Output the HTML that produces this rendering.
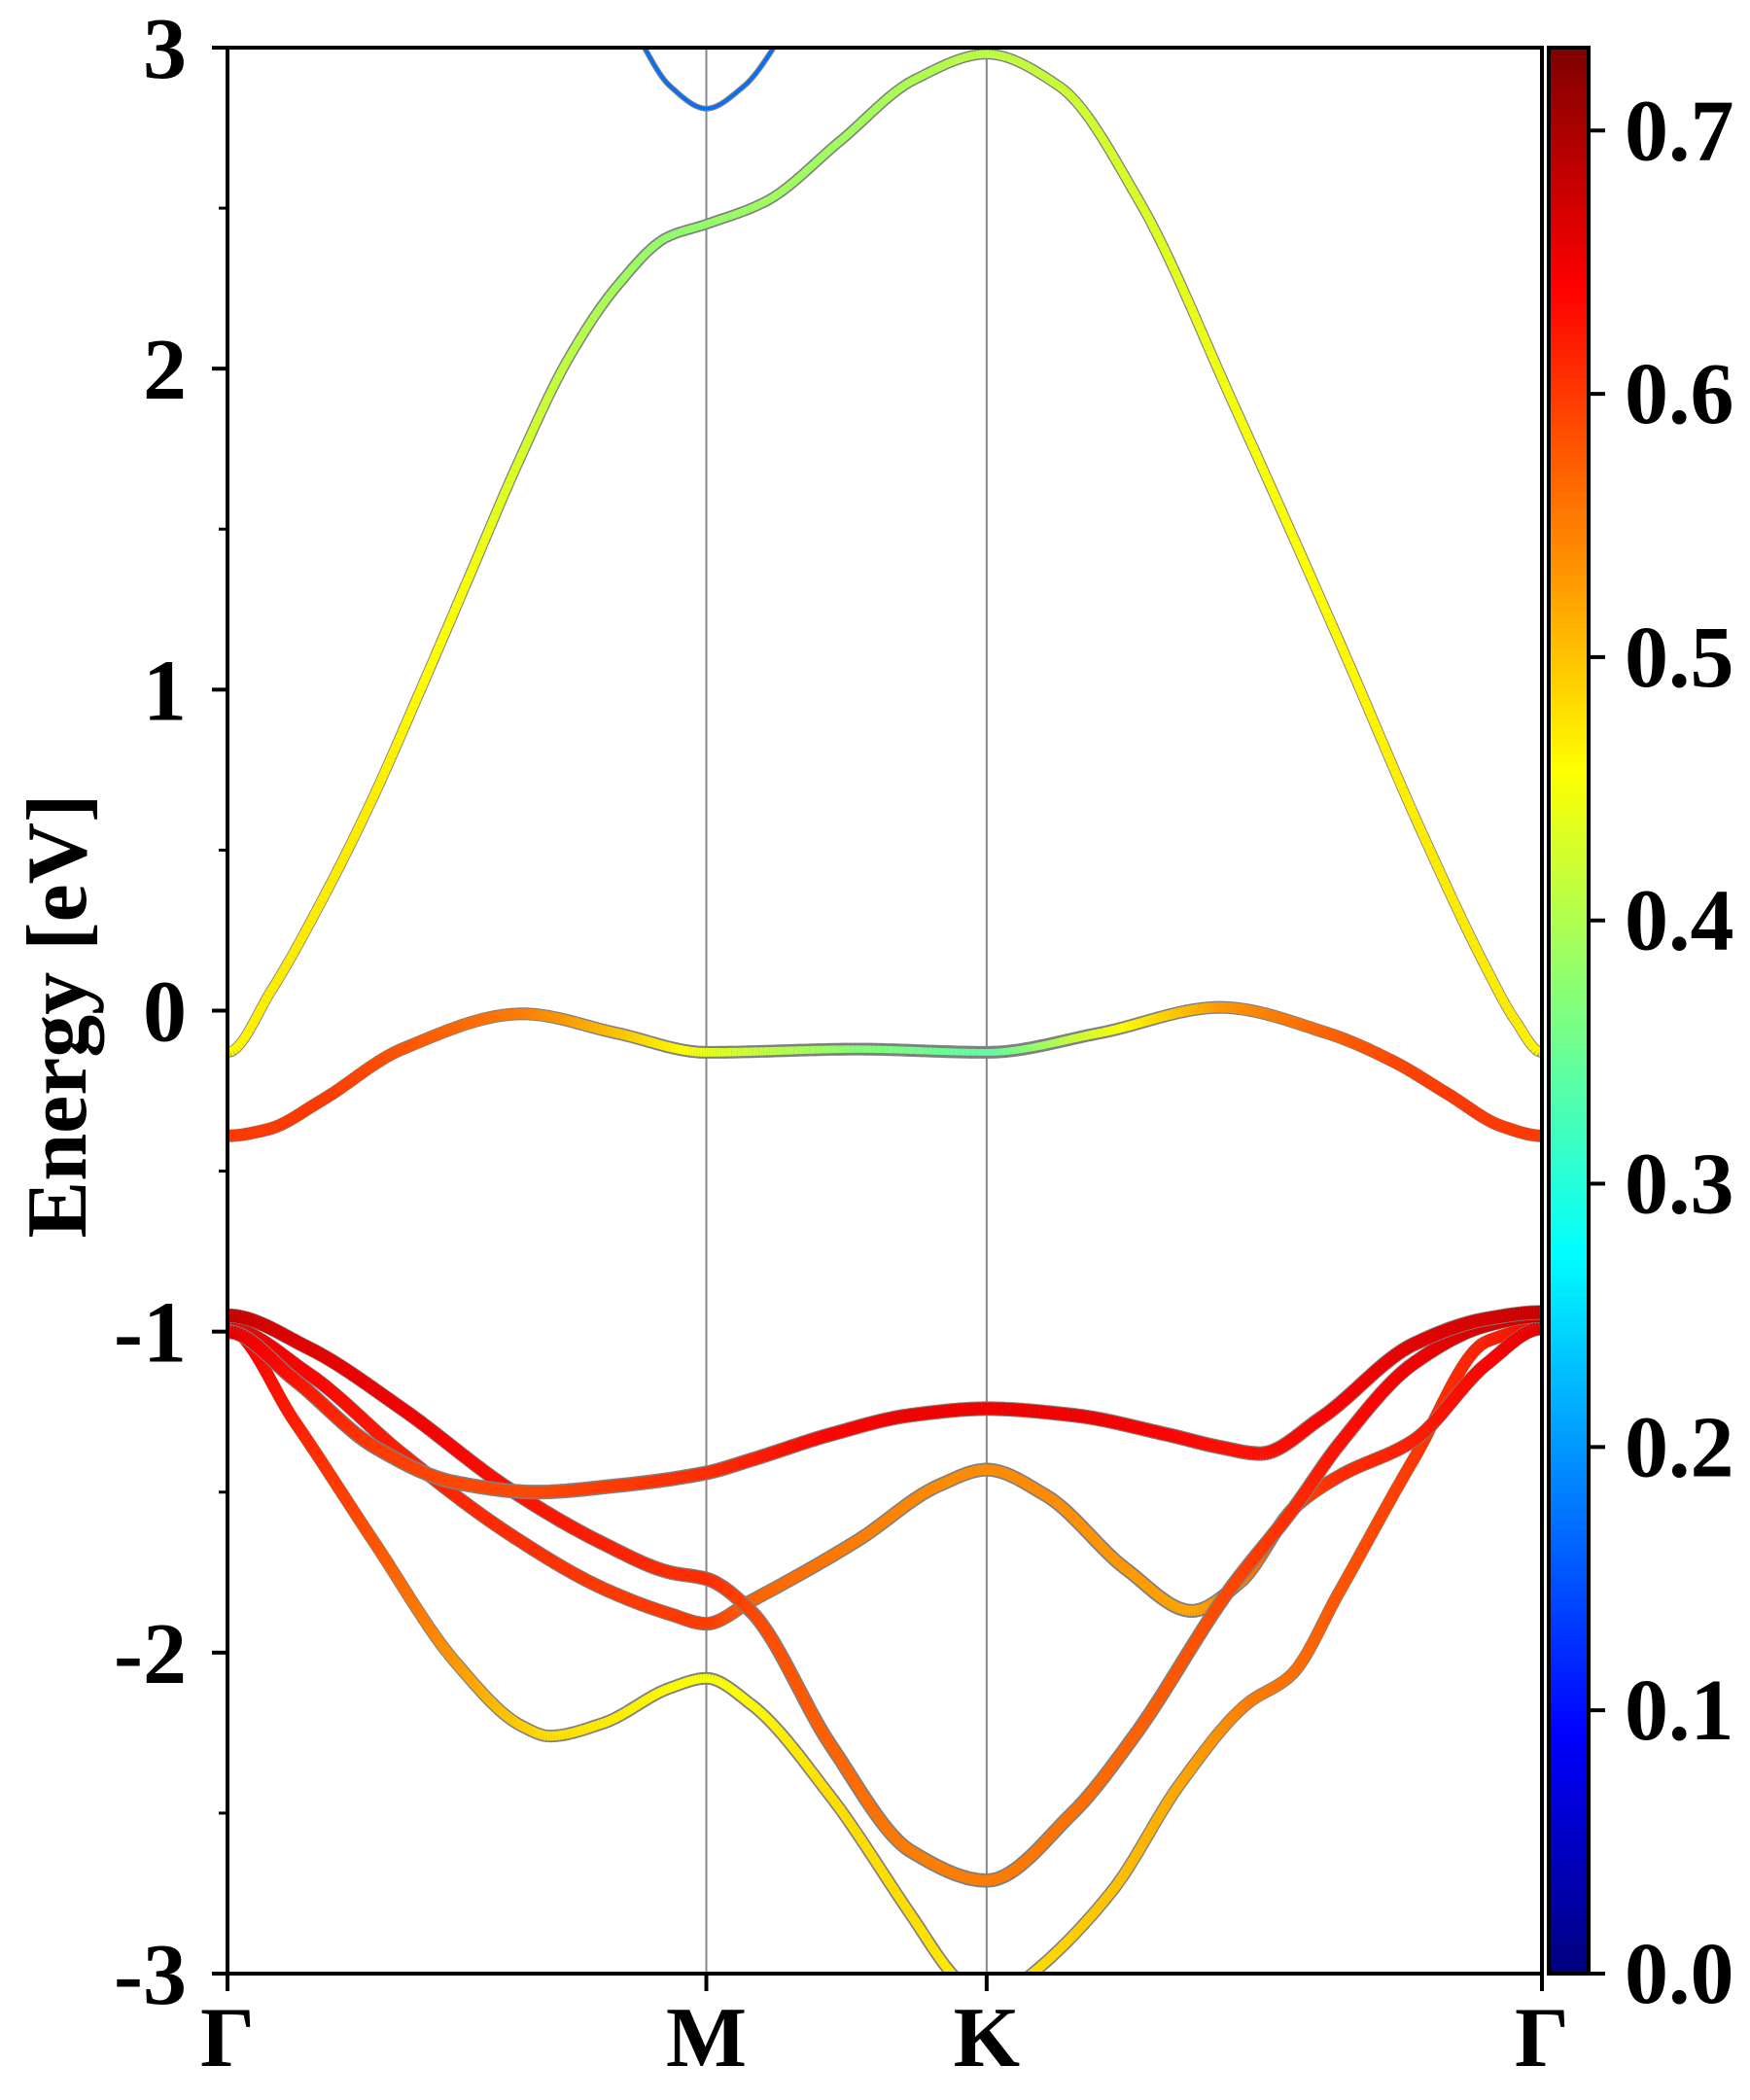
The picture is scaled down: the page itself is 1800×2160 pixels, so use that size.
<!DOCTYPE html>
<html><head><meta charset="utf-8"><style>
html,body{margin:0;padding:0;background:#fff}
svg{display:block}
text{font-family:"Liberation Serif",serif;font-weight:bold;fill:#000}
</style></head><body>
<svg id="chart" width="1800" height="2160" viewBox="0 0 1800 2160" xmlns="http://www.w3.org/2000/svg">
<defs><clipPath id="clip"><rect x="234" y="49" width="1352" height="1981"/></clipPath></defs>
<g id="bands" clip-path="url(#clip)"></g>
<g id="axes"></g>
</svg>
<script>
// k-path distance on a 0..980 scale (Γ=0, M=357, K=566, Γ=980)
const kLabels = ["Γ","M","K","Γ"];
const kTicks = [0, 357, 566, 980];
const yTicks = [-3,-2,-1,0,1,2,3];
const cbTicks = [0.0,0.1,0.2,0.3,0.4,0.5,0.6,0.7];
const cbMax = 0.7315;

const band1K = [0,33,70,107,143,180,217,254,291,328,357,401,457,512,566,620,680,750,830,890,940,960,980];
const band1E = [-0.13,0.065,0.34,0.65,0.99,1.35,1.71,2.03,2.26,2.41,2.45,2.52,2.71,2.90,2.98,2.88,2.52,1.89,1.14,0.56,0.12,-0.03,-0.13];
const band1W = [0.46,0.47,0.47,0.47,0.46,0.45,0.43,0.41,0.39,0.38,0.38,0.39,0.39,0.40,0.41,0.42,0.43,0.45,0.46,0.47,0.47,0.47,0.46];

const band2K = [0,30,70,130,220,290,357,470,566,650,740,820,870,910,950,980];
const band2E = [-0.39,-0.37,-0.28,-0.12,-0.01,-0.07,-0.13,-0.12,-0.13,-0.07,0.01,-0.07,-0.16,-0.26,-0.36,-0.39];
const band2W = [0.60,0.60,0.60,0.58,0.55,0.50,0.44,0.37,0.34,0.44,0.53,0.57,0.59,0.60,0.60,0.60];

const band3K = [300,330,357,385,420];
const band3E = [3.08,2.88,2.81,2.88,3.08];
const band3W = [0.17,0.17,0.17,0.17,0.17];

const bandV1K = [0,60,130,210,280,330,357,390,450,510,566,630,676,746,795,829,884,939,980];
const bandV1E = [-0.95,-1.05,-1.24,-1.49,-1.66,-1.75,-1.77,-1.87,-2.29,-2.62,-2.71,-2.50,-2.26,-1.81,-1.55,-1.35,-1.10,-0.98,-0.95];
const bandV1W = [0.68,0.66,0.65,0.63,0.62,0.61,0.61,0.59,0.57,0.55,0.55,0.56,0.57,0.59,0.61,0.63,0.65,0.67,0.68];

const bandV2K = [0,60,130,210,280,330,357,390,470,530,566,610,670,719,755,795,829,884,939,980];
const bandV2E = [-0.99,-1.13,-1.38,-1.63,-1.80,-1.88,-1.91,-1.84,-1.65,-1.48,-1.43,-1.51,-1.74,-1.87,-1.78,-1.55,-1.45,-1.34,-1.10,-0.99];
const bandV2W = [0.66,0.64,0.62,0.61,0.60,0.60,0.60,0.57,0.55,0.54,0.54,0.54,0.53,0.52,0.55,0.59,0.61,0.62,0.64,0.66];

const bandV3K = [0,50,110,170,230,290,357,390,450,510,566,630,700,740,770,815,884,939,980];
const bandV3E = [-1.00,-1.15,-1.36,-1.47,-1.50,-1.48,-1.44,-1.40,-1.32,-1.26,-1.24,-1.26,-1.32,-1.36,-1.38,-1.27,-1.04,-0.96,-0.94];
const bandV3W = [0.66,0.63,0.60,0.59,0.59,0.60,0.61,0.62,0.64,0.65,0.65,0.65,0.64,0.63,0.63,0.64,0.66,0.67,0.68];

const bandV4K = [0,50,110,170,220,240,280,330,357,390,450,510,540,566,600,660,710,760,793,829,884,939,980];
const bandV4E = [-0.99,-1.28,-1.66,-2.03,-2.23,-2.26,-2.22,-2.11,-2.08,-2.16,-2.45,-2.82,-3.00,-3.10,-3.00,-2.74,-2.41,-2.16,-2.07,-1.81,-1.40,-1.03,-0.99];
const bandV4W = [0.65,0.62,0.58,0.53,0.49,0.48,0.47,0.46,0.45,0.46,0.48,0.48,0.47,0.47,0.48,0.50,0.52,0.55,0.56,0.58,0.60,0.62,0.64];

const X0=234, X1=1586, Y0=49, Y1=2030, EMIN=-3, EMAX=3, KMAX=980;
function xs(k){return X0+k/KMAX*(X1-X0);}
function ys(e){return Y1-(e-EMIN)/(EMAX-EMIN)*(Y1-Y0);}
function jet(v){
  const t=Math.max(0,Math.min(1,v/cbMax));
  const c=x=>Math.round(255*Math.max(0,Math.min(1,1.5-Math.abs(4*t-x))));
  return `rgb(${c(3)},${c(2)},${c(1)})`;
}
const NS="http://www.w3.org/2000/svg";
function mk(tag,attrs,parent){const e=document.createElementNS(NS,tag);for(const k in attrs)e.setAttribute(k,attrs[k]);parent.appendChild(e);return e;}
function monotone(X,Y){
  const n=X.length,d=[],m=[];
  for(let i=0;i<n-1;i++)d.push((Y[i+1]-Y[i])/(X[i+1]-X[i]));
  m[0]=(X[0]===0)?0:d[0];m[n-1]=(X[n-1]===KMAX)?0:d[n-2];
  for(let i=1;i<n-1;i++){ if(d[i-1]*d[i]<=0)m[i]=0; else {const h0=X[i]-X[i-1],h1=X[i+1]-X[i];const w1=2*h1+h0,w2=h1+2*h0;m[i]=(w1+w2)/(w1/d[i-1]+w2/d[i]);} }
  return x=>{let i=0;while(i<n-2&&x>X[i+1])i++;
    const h=X[i+1]-X[i],t=(x-X[i])/h,t2=t*t,t3=t2*t;
    return (2*t3-3*t2+1)*Y[i]+(t3-2*t2+t)*h*m[i]+(-2*t3+3*t2)*Y[i+1]+(t3-t2)*h*m[i+1];};
}
function lin(X,Y){return x=>{let i=0;while(i<X.length-2&&x>X[i+1])i++;const t=(x-X[i])/(X[i+1]-X[i]);return Y[i]+(Y[i+1]-Y[i])*t;};}
const bandsG=document.getElementById('bands');
const axG=document.getElementById('axes');
for(let i=1;i<kTicks.length-1;i++){
  const l=mk('line',{x1:xs(kTicks[i]),x2:xs(kTicks[i]),y1:Y0,y2:Y1,stroke:'#888','stroke-width':2},bandsG);
  
  
}
const bands=[[band1K,band1E,band1W,'conduction-band-1'],[band2K,band2E,band2W,'valence-band-top'],[band3K,band3E,band3W,'conduction-band-2'],
  [bandV4K,bandV4E,bandV4W,'valence-band-4'],[bandV2K,bandV2E,bandV2W,'valence-band-2'],[bandV1K,bandV1E,bandV1W,'valence-band-1'],[bandV3K,bandV3E,bandV3W,'valence-band-3']];
bands.forEach(([K,E,W,name])=>{
  const g=mk('g',{},bandsG);
  
  
  const fe=monotone(K,E), fw=lin(K,W);
  const S=[];const k0=K[0],k1=K[K.length-1],N=Math.ceil((k1-k0)/2);
  for(let i=0;i<=N;i++){const k=k0+(k1-k0)*i/N;S.push([xs(k),ys(fe(k)),fw(k)]);}
  let d='M'+S.map(p=>p[0].toFixed(1)+','+p[1].toFixed(1)).join('L');
  const wavg=W.reduce((a,b)=>a+b,0)/W.length;
  mk('path',{d:d,fill:'none',stroke:'#808080','stroke-width':20*wavg+2.4,'stroke-linejoin':'round'},g);
  for(let i=0;i<S.length-1;i++){
    const wv=(S[i][2]+S[i+1][2])/2;
    mk('line',{x1:S[i][0],y1:S[i][1],x2:S[i+1][0],y2:S[i+1][1],stroke:jet(wv),'stroke-width':20*wv,'stroke-linecap':'butt'},g);
  }
});
const fr=mk('rect',{x:X0,y:Y0,width:X1-X0,height:Y1-Y0,fill:'none',stroke:'#000','stroke-width':4},axG);

yTicks.forEach(v=>{
  const t=mk('line',{x1:X0-16,x2:X0,y1:ys(v),y2:ys(v),stroke:'#000','stroke-width':4},axG);
  
  const tx=mk('text',{x:X0-42,y:ys(v)+31,'text-anchor':'end','font-size':90},axG);
  tx.textContent=String(v);
  
});
for(let v=-2.5;v<3;v+=1){
  const t=mk('line',{x1:X0-9,x2:X0,y1:ys(v),y2:ys(v),stroke:'#000','stroke-width':3},axG);
  
}
kTicks.forEach((k,i)=>{
  const t=mk('line',{x1:xs(k),x2:xs(k),y1:Y1,y2:Y1+18,stroke:'#000','stroke-width':4},axG);
  
  const tx=mk('text',{x:xs(k),y:2125,'text-anchor':'middle','font-size':88},axG);
  tx.textContent=kLabels[i];
  
});
const yl=mk('text',{x:0,y:0,'text-anchor':'middle','font-size':88,transform:'translate(88,1045) rotate(-90)'},axG);
yl.textContent='Energy [eV]';

const CX=1593,CW=41;
const cb=mk('g',{},axG);

const NC=256;
for(let i=0;i<NC;i++){
  mk('rect',{x:CX,y:Y1-(Y1-Y0)*(i+1)/NC-0.5,width:CW,height:(Y1-Y0)/NC+1,fill:jet(cbMax*(i+0.5)/NC)},cb);
}
mk('rect',{x:CX,y:Y0,width:CW,height:Y1-Y0,fill:'none',stroke:'#000','stroke-width':4},cb);
cbTicks.forEach(v=>{
  const y=Y1-(Y1-Y0)*v/cbMax;
  const t=mk('line',{x1:CX+CW,x2:CX+CW+17,y1:y,y2:y,stroke:'#000','stroke-width':4},cb);
  
  const tx=mk('text',{x:1671,y:y+30,'font-size':90},cb);
  tx.textContent=v.toFixed(1);
  
});
</script>
</body></html>
